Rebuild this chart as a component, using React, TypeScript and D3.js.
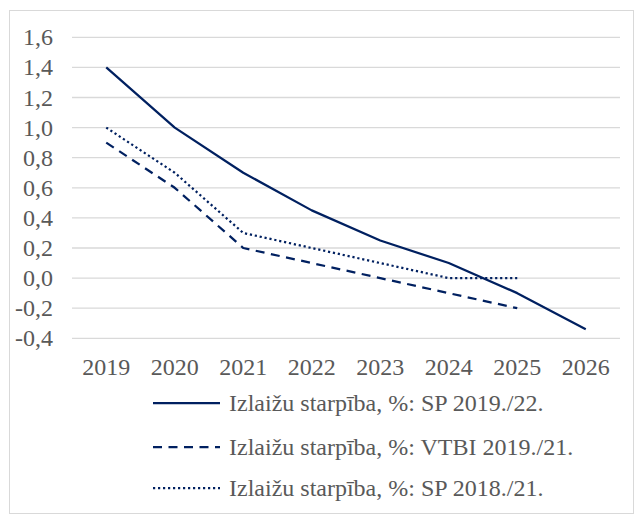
import React from "react";
import * as d3 from "d3";

const years = ["2019", "2020", "2021", "2022", "2023", "2024", "2025", "2026"];
const sp1922 = [1.4, 1.0, 0.7, 0.45, 0.25, 0.1, -0.1, -0.34];
const vtbi1921 = [0.9, 0.6, 0.2, 0.1, 0.0, -0.1, -0.2];
const sp1821 = [1.0, 0.7, 0.3, 0.2, 0.1, 0.0, 0.0];
const yTicks = [-0.4, -0.2, 0, 0.2, 0.4, 0.6, 0.8, 1.0, 1.2, 1.4, 1.6];
const seriesNames = [
  "Izlaižu starpība, %: SP 2019./22.",
  "Izlaižu starpība, %: VTBI 2019./21.",
  "Izlaižu starpība, %: SP 2018./21.",
];

const W = 635, H = 515;
const color = "#002060";
const textColor = "#595959";
const serif = { fontFamily: "'Times New Roman'" };

const x = d3.scaleBand().domain(years).range([72, 620]);
const y = d3.scaleLinear().domain([-0.4, 1.6]).range([338.3, 37.3]);
const cx = (yr: string) => x(yr)! + x.bandwidth() / 2;

const line = d3.line<number>()
  .x((_, i) => cx(years[i]))
  .y((d) => y(d));

const series = [
  { values: sp1922, dash: undefined },
  { values: vtbi1921, dash: "9,6.5" },
  { values: sp1821, dash: "2.2,2.8" },
];
const legendY = [403, 447, 488];

const fmt = (d: number) => d3.format(".1f")(d).replace(".", ",").replace("−", "-");

const App = () => (
  <svg width={W} height={H} style={{ position: "absolute", left: 0, top: 0 }}>
    <rect x={9.5} y={10.5} width={W - 11} height={H - 12} fill="#fff" stroke="#d9d9d9" />

    {yTicks.map((t) => (
      <line key={"g" + t} x1={72} x2={620} y1={y(t)} y2={y(t)} stroke="#d9d9d9" strokeWidth={1.3} />
    ))}

    {yTicks.map((t) => (
      <text key={"y" + t} x={53} y={y(t) + 8} textAnchor="end" fontSize={24} fill={textColor} style={serif}>
        {fmt(t)}
      </text>
    ))}

    {years.map((yr) => (
      <text key={yr} x={cx(yr)} y={375} textAnchor="middle" fontSize={24} fill={textColor} style={serif}>
        {yr}
      </text>
    ))}

    {series.map((s, i) => (
      <path key={"s" + i} d={line(s.values) || ""} fill="none" stroke={color}
        strokeWidth={2.25} strokeLinejoin="round" strokeDasharray={s.dash} />
    ))}

    {series.map((s, i) => (
      <g key={"l" + i}>
        <line x1={153} x2={220} y1={legendY[i]} y2={legendY[i]} stroke={color}
          strokeWidth={2.25} strokeDasharray={s.dash} />
        <text x={229} y={legendY[i] + 8} fontSize={24} fill={textColor} style={serif}>
          {seriesNames[i]}
        </text>
      </g>
    ))}
  </svg>
);

export default App;
